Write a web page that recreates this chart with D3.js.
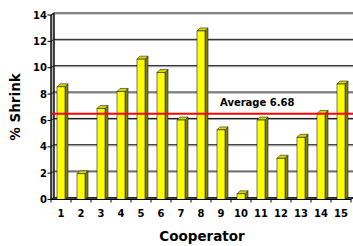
<!DOCTYPE html>
<html>
<head>
<meta charset="utf-8">
<script src="https://d3js.org/d3.v7.min.js"></script>
<style>
  body { margin: 0; background: #fff; }
  text { font-family: "DejaVu Sans", sans-serif; font-weight: bold; fill: #000; }
</style>
</head>
<body>
<div id="chart"></div>
<script>
// data
var cooperators = ["1","2","3","4","5","6","7","8","9","10","11","12","13","14","15"];
var shrink = [8.55, 1.95, 6.91, 8.2, 10.65, 9.64, 6.03, 12.79, 5.28, 0.43, 6.03, 3.13, 4.72, 6.53, 8.76];
var yTicks = [0, 2, 4, 6, 8, 10, 12, 14];
var avgLevel = 6.35;          // where the red line sits
var avgLabel = "Average 6.68";

var W = 353, H = 246;
var dx = 3, dy = -2;           // depth of walls
var bdx = 3, bdy = -3;         // depth of bars

var svg = d3.select("#chart").append("svg").attr("width", W).attr("height", H);

var x = d3.scaleBand().domain(cooperators).range([51, 351]);
var y = d3.scaleLinear().domain([0, 14]).range([199.5, 15]);

var x0 = x.range()[0], x1 = x.range()[1];
var y0 = y(0), yTop = y(14);

// side wall
svg.append("polygon")
  .attr("points", [[x0, y0], [x0, yTop], [x0 + dx, yTop + dy], [x0 + dx, y0 + dy]].join(" "))
  .attr("fill", "#b8b8b8").attr("stroke", "#000").attr("stroke-width", 0.8);

// floor
svg.append("polygon")
  .attr("points", [[x0, y0], [x1, y0], [x1 + dx, y0 + dy], [x0 + dx, y0 + dy]].join(" "))
  .attr("fill", "#444").attr("stroke", "#000").attr("stroke-width", 0.8);

// gridlines on back wall and side wall
yTicks.forEach(function (t) {
  if (t === 0) return;
  svg.append("line")
    .attr("x1", x0 + dx).attr("x2", W)
    .attr("y1", y(t) + dy).attr("y2", y(t) + dy)
    .attr("stroke", "#000").attr("stroke-width", 1);
  svg.append("line")
    .attr("x1", x0 + dx).attr("x2", W)
    .attr("y1", y(t) + dy + 1).attr("y2", y(t) + dy + 1)
    .attr("stroke", "#999").attr("stroke-width", 1);
  svg.append("line")
    .attr("x1", x0).attr("x2", x0 + dx)
    .attr("y1", y(t)).attr("y2", y(t) + dy)
    .attr("stroke", "#000").attr("stroke-width", 0.8);
});

// back wall left edge
svg.append("line")
  .attr("x1", x0 + dx).attr("x2", x0 + dx)
  .attr("y1", yTop + dy).attr("y2", y0 + dy)
  .attr("stroke", "#000").attr("stroke-width", 1);

// bars
var bw = 8;
var bars = svg.append("g").selectAll("g").data(shrink).enter().append("g");
bars.each(function (v, i) {
  var g = d3.select(this);
  var cx = x(cooperators[i]) + x.bandwidth() / 2;
  var bx = cx - bw / 2, yv = y(v);
  g.append("polygon")
    .attr("points", [[bx + bw, yv], [bx + bw + bdx, yv + bdy], [bx + bw + bdx, y0 + bdy], [bx + bw, y0]].join(" "))
    .attr("fill", "#7f7f00").attr("stroke", "#222").attr("stroke-width", 0.6);
  g.append("polygon")
    .attr("points", [[bx, yv], [bx + bw, yv], [bx + bw + bdx, yv + bdy], [bx + bdx, yv + bdy]].join(" "))
    .attr("fill", "#d8d800").attr("stroke", "#222").attr("stroke-width", 0.6);
  g.append("rect")
    .attr("x", bx).attr("y", yv).attr("width", bw).attr("height", y0 - yv)
    .attr("fill", "#ffff00").attr("stroke", "#222").attr("stroke-width", 0.6);
});

// y axis
svg.append("line")
  .attr("x1", x0).attr("x2", x0).attr("y1", yTop).attr("y2", y0)
  .attr("stroke", "#000").attr("stroke-width", 1);
yTicks.forEach(function (t) {
  svg.append("line")
    .attr("x1", x0 - 3.5).attr("x2", x0).attr("y1", y(t)).attr("y2", y(t))
    .attr("stroke", "#000").attr("stroke-width", 1);
  svg.append("text")
    .attr("x", 47).attr("y", y(t)).attr("dy", "0.36em")
    .attr("text-anchor", "end").style("font-size", "10px")
    .text(t);
});

// x axis
svg.append("line")
  .attr("x1", x0).attr("x2", x1).attr("y1", y0).attr("y2", y0)
  .attr("stroke", "#000").attr("stroke-width", 1);
cooperators.forEach(function (c, i) {
  var xs = x(c);
  svg.append("line")
    .attr("x1", xs).attr("x2", xs).attr("y1", y0).attr("y2", y0 + 3)
    .attr("stroke", "#000").attr("stroke-width", 1);
  svg.append("text")
    .attr("x", xs + x.bandwidth() / 2).attr("y", 217)
    .attr("text-anchor", "middle").style("font-size", "10px")
    .text(c);
});
svg.append("line")
  .attr("x1", x1).attr("x2", x1).attr("y1", y0).attr("y2", y0 + 3)
  .attr("stroke", "#000").attr("stroke-width", 1);

// average line
svg.append("line")
  .attr("x1", x0).attr("x2", W)
  .attr("y1", y(avgLevel) + dy).attr("y2", y(avgLevel) + dy)
  .attr("stroke", "#ff0000").attr("stroke-width", 2);
svg.append("text")
  .attr("x", 220).attr("y", 106)
  .style("font-size", "10px")
  .text(avgLabel);

// axis titles
svg.append("text")
  .attr("x", 202).attr("y", 241)
  .attr("text-anchor", "middle").style("font-size", "13.5px")
  .text("Cooperator");
svg.append("text")
  .attr("transform", "translate(20,107) rotate(-90)")
  .attr("text-anchor", "middle").style("font-size", "13.5px")
  .text("% Shrink");
</script>
</body>
</html>
